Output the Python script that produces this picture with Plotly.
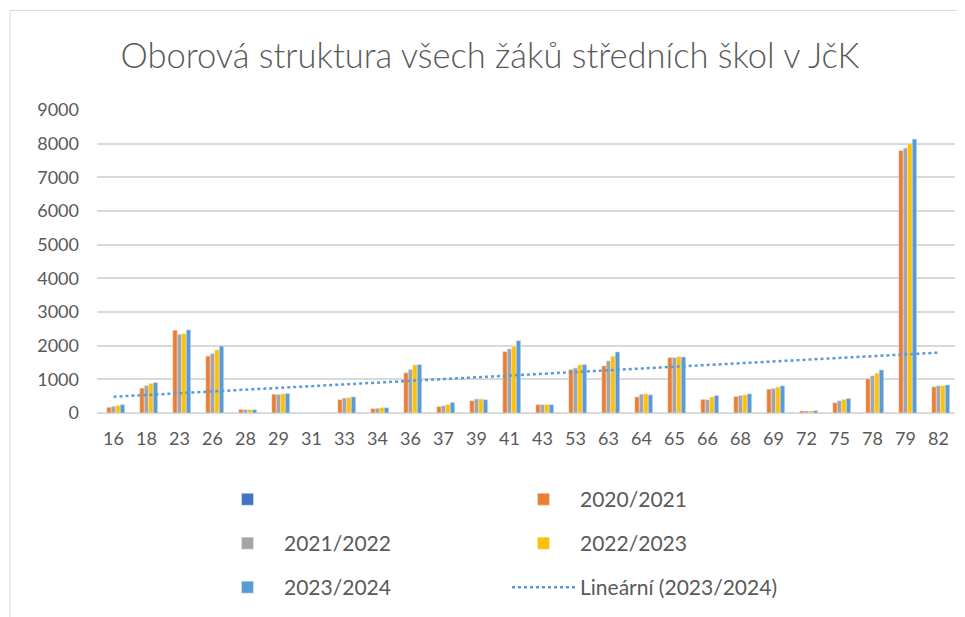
import numpy as np
import plotly.graph_objects as go

categories = ["16", "18", "23", "26", "28", "29", "31", "33", "34", "36", "37", "39", "41",
              "43", "53", "63", "64", "65", "66", "68", "69", "72", "75", "78", "79", "82"]

blank_series = [0] * len(categories)
y2020 = [170, 740, 2460, 1690, 110, 560, 0, 395, 130, 1195, 190, 365, 1825,
         250, 1290, 1400, 480, 1645, 405, 490, 710, 60, 305, 1015, 7800, 780]
y2021 = [200, 815, 2340, 1765, 100, 550, 0, 445, 140, 1290, 215, 415, 1905,
         250, 1340, 1550, 560, 1645, 395, 520, 730, 60, 365, 1105, 7870, 810]
y2022 = [220, 875, 2355, 1875, 100, 570, 0, 455, 160, 1430, 255, 415, 1980,
         250, 1430, 1685, 570, 1675, 475, 540, 770, 60, 405, 1185, 8000, 810]
y2023 = [250, 905, 2470, 1990, 100, 580, 0, 480, 160, 1440, 315, 395, 2150,
         250, 1440, 1815, 540, 1665, 520, 570, 810, 70, 435, 1280, 8135, 835]

y_ticks = list(range(0, 10000, 1000))

# linear trendline (Excel style: x = 1..n)
idx = np.arange(1, len(categories) + 1)
slope, intercept = np.polyfit(idx, y2023, 1)
trend = (slope * idx + intercept).tolist()

FONT = "Lato"
GREY_TXT = "#595959"

fig = go.Figure()
fig.add_trace(go.Bar(x=categories, y=blank_series, name="", marker_color="#4472C4",
                     legend="legend"))
fig.add_trace(go.Bar(x=categories, y=y2020, name="2020/2021", marker_color="#ED7D31",
                     legend="legend"))
fig.add_trace(go.Bar(x=categories, y=y2021, name="2021/2022", marker_color="#A5A5A5",
                     legend="legend2"))
fig.add_trace(go.Bar(x=categories, y=y2022, name="2022/2023", marker_color="#FFC000",
                     legend="legend2"))
fig.add_trace(go.Bar(x=categories, y=y2023, name="2023/2024", marker_color="#5B9BD5",
                     legend="legend3"))
fig.add_trace(go.Scatter(x=categories, y=trend, name="Lineární (2023/2024)", mode="lines",
                         line=dict(color="#5B9BD5", width=2.5, dash="dot"),
                         legend="legend3"))

# the page body adds an 8px margin, so the figure is laid out 8px smaller
OFF = 8
W, H = 965 - OFF, 617 - OFF
L, R, T, B = 97 - OFF, 10, 110 - OFF, 617 - 414.3
pw, ph = W - L - R, H - T - B


def px_x(px):
    return (px - OFF - L) / pw


def px_y(py):
    return (H - B - (py - OFF)) / ph


leg_common = dict(orientation="h", xanchor="left", yanchor="middle",
                  font=dict(family=FONT, size=21, color=GREY_TXT),
                  entrywidth=218, entrywidthmode="pixels", itemwidth=63,
                  bgcolor="rgba(0,0,0,0)", traceorder="normal")

fig.update_layout(
    width=W, height=H,
    margin=dict(l=L, r=R, t=T, b=B),
    paper_bgcolor="white", plot_bgcolor="white",
    title=dict(text="Oborová struktura všech žáků středních škol v JčK",
               x=(490 - OFF) / W, xref="container", xanchor="center",
               y=1 - (56 - OFF) / H, yref="container", yanchor="middle",
               font=dict(family=FONT, size=34.5, weight=300, color=GREY_TXT)),
    barmode="group", bargap=0.32, bargroupgap=0,
    font=dict(family=FONT, color=GREY_TXT),
    legend=dict(x=px_x(211), y=px_y(500), **leg_common),
    legend2=dict(x=px_x(211), y=px_y(544), **leg_common),
    legend3=dict(x=px_x(211), y=px_y(588), **leg_common),
    xaxis=dict(type="category", showline=False, showgrid=False, ticks="",
               ticklabelstandoff=13,
               tickfont=dict(family=FONT, size=18, color=GREY_TXT)),
    yaxis=dict(range=[0, 9000], tickvals=y_ticks, showgrid=True, gridcolor="#D9D9D9",
               gridwidth=1.5, zeroline=True, zerolinecolor="#D9D9D9", zerolinewidth=1.5,
               showline=False, ticks="", ticklabelstandoff=17,
               tickfont=dict(family=FONT, size=18, color=GREY_TXT)),
    shapes=[dict(type="rect", xref="paper", yref="paper",
                 x0=px_x(10), x1=px_x(990), y0=px_y(640), y1=px_y(10),
                 line=dict(color="#D9D9D9", width=1), fillcolor="rgba(0,0,0,0)")],
)

fig.write_html("out.html")
